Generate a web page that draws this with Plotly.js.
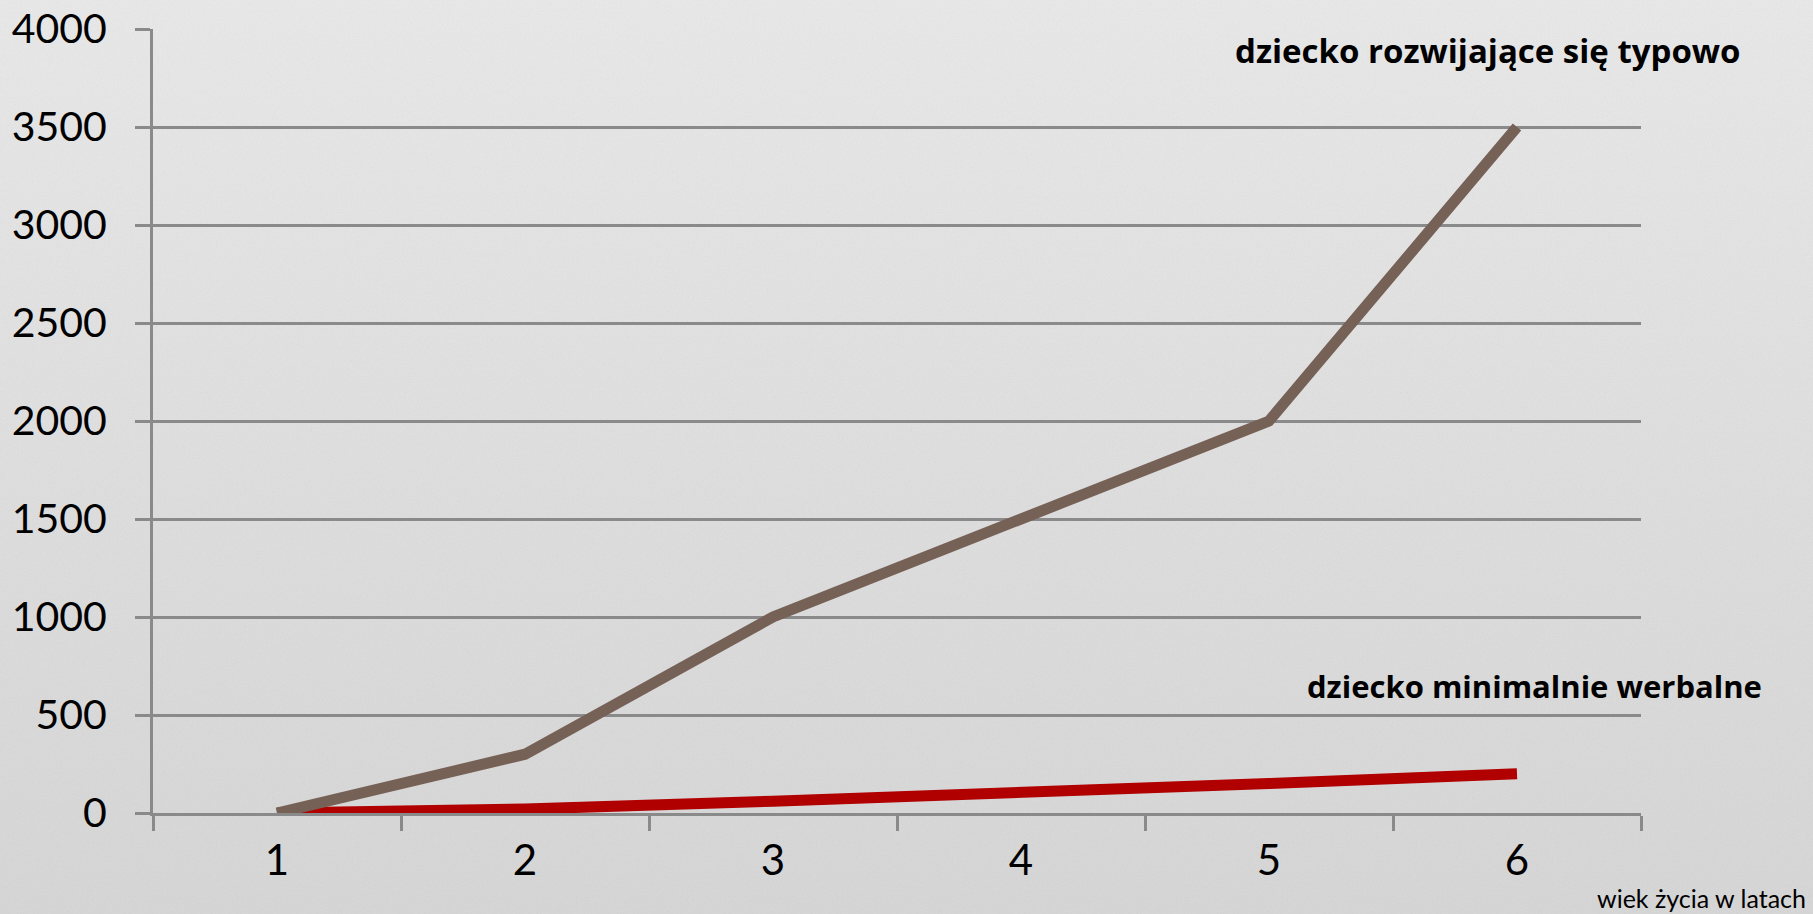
<!DOCTYPE html>
<html>
<head>
<meta charset="utf-8">
<script src="https://cdn.plot.ly/plotly-3.0.1.min.js"></script>
<style>
  html, body { margin: 0; padding: 0; }
  body {
    width: 1813px; height: 914px; overflow: hidden;
    background-color: #dedede;
    background-image:
      url("data:image/svg+xml;utf8,<svg xmlns='http://www.w3.org/2000/svg' width='300' height='300'><filter id='n'><feTurbulence type='fractalNoise' baseFrequency='0.8' numOctaves='3' stitchTiles='stitch'/><feColorMatrix type='saturate' values='0'/></filter><rect width='300' height='300' filter='url(%23n)' opacity='0.12'/></svg>"),
      linear-gradient(180deg, #e9e9e9 0%, #dedede 55%, #d6d6d6 100%);
  }
  #chart { width: 1813px; height: 914px; }
</style>
</head>
<body>
<div id="chart"></div>
<script>
const categories = ['1', '2', '3', '4', '5', '6'];
const typowoValues = [0, 300, 1000, 1500, 2000, 3500];
const minimalnieValues = [0, 20, 60, 100, 150, 200];
const yTickValues = [0, 500, 1000, 1500, 2000, 2500, 3000, 3500, 4000];
const yTickLabels = ['0', '500', '1000', '1500', '2000', '2500', '3000', '3500', '4000'];
const seriesNames = ['dziecko rozwijające się typowo', 'dziecko minimalnie werbalne'];
const xAxisTitle = 'wiek życia w latach';

const gridColor = '#8a8a8a';

const traces = [
  {
    x: categories, y: minimalnieValues, type: 'scatter', mode: 'lines',
    name: seriesNames[1],
    line: { color: '#b00000', width: 11 }
  },
  {
    x: categories, y: typowoValues, type: 'scatter', mode: 'lines',
    name: seriesNames[0],
    line: { color: '#766156', width: 11 }
  }
];

// plot area in pixels: left 153, right 1641, top 29, bottom 813
const L = 153, R = 1641, T = 29, B = 813;
const fx = p => (p - L) / (R - L);
const fy = p => (B - p) / (B - T);

const layout = {
  width: 1813, height: 914,
  margin: { l: L, r: 1813 - R, t: T, b: 914 - B, pad: 0 },
  paper_bgcolor: 'rgba(0,0,0,0)',
  plot_bgcolor: 'rgba(0,0,0,0)',
  showlegend: false,
  font: { family: 'Lato, "Open Sans", sans-serif', color: '#000' },
  xaxis: {
    type: 'category',
    range: [-0.5, 5.5],
    tickson: 'boundaries',
    ticks: 'outside', ticklen: 15, tickwidth: 3, tickcolor: gridColor,
    showline: true, linecolor: gridColor, linewidth: 3,
    showgrid: false, zeroline: false,
    tickfont: { family: 'Lato, sans-serif', size: 42, color: '#000' },
    ticklabelstandoff: 9
  },
  yaxis: {
    range: [0, 4000],
    tickmode: 'array', tickvals: yTickValues, ticktext: yTickLabels,
    ticks: 'outside', ticklen: 15, tickwidth: 3, tickcolor: gridColor,
    showline: true, linecolor: gridColor, linewidth: 3,
    showgrid: true, gridcolor: gridColor, gridwidth: 3,
    zeroline: false,
    tickfont: { family: 'Lato, sans-serif', size: 41, color: '#000' },
    ticklabelstandoff: 20
  },
  annotations: [
    {
      text: '<b>' + seriesNames[0] + '</b>',
      xref: 'paper', yref: 'paper', x: fx(1233), y: fy(51),
      xanchor: 'left', yanchor: 'middle', showarrow: false,
      font: { family: '"Open Sans", sans-serif', size: 33, color: '#000' }
    },
    {
      text: '<b>' + seriesNames[1] + '</b>',
      xref: 'paper', yref: 'paper', x: fx(1305), y: fy(686),
      xanchor: 'left', yanchor: 'middle', showarrow: false,
      font: { family: '"Open Sans", sans-serif', size: 31, color: '#000' }
    },
    {
      text: xAxisTitle,
      xref: 'paper', yref: 'paper', x: fx(1808), y: fy(898),
      xanchor: 'right', yanchor: 'middle', showarrow: false,
      font: { family: 'Lato, sans-serif', size: 25, color: '#000' }
    }
  ]
};

Plotly.newPlot('chart', traces, layout, { staticPlot: true, displayModeBar: false });
</script>
</body>
</html>
